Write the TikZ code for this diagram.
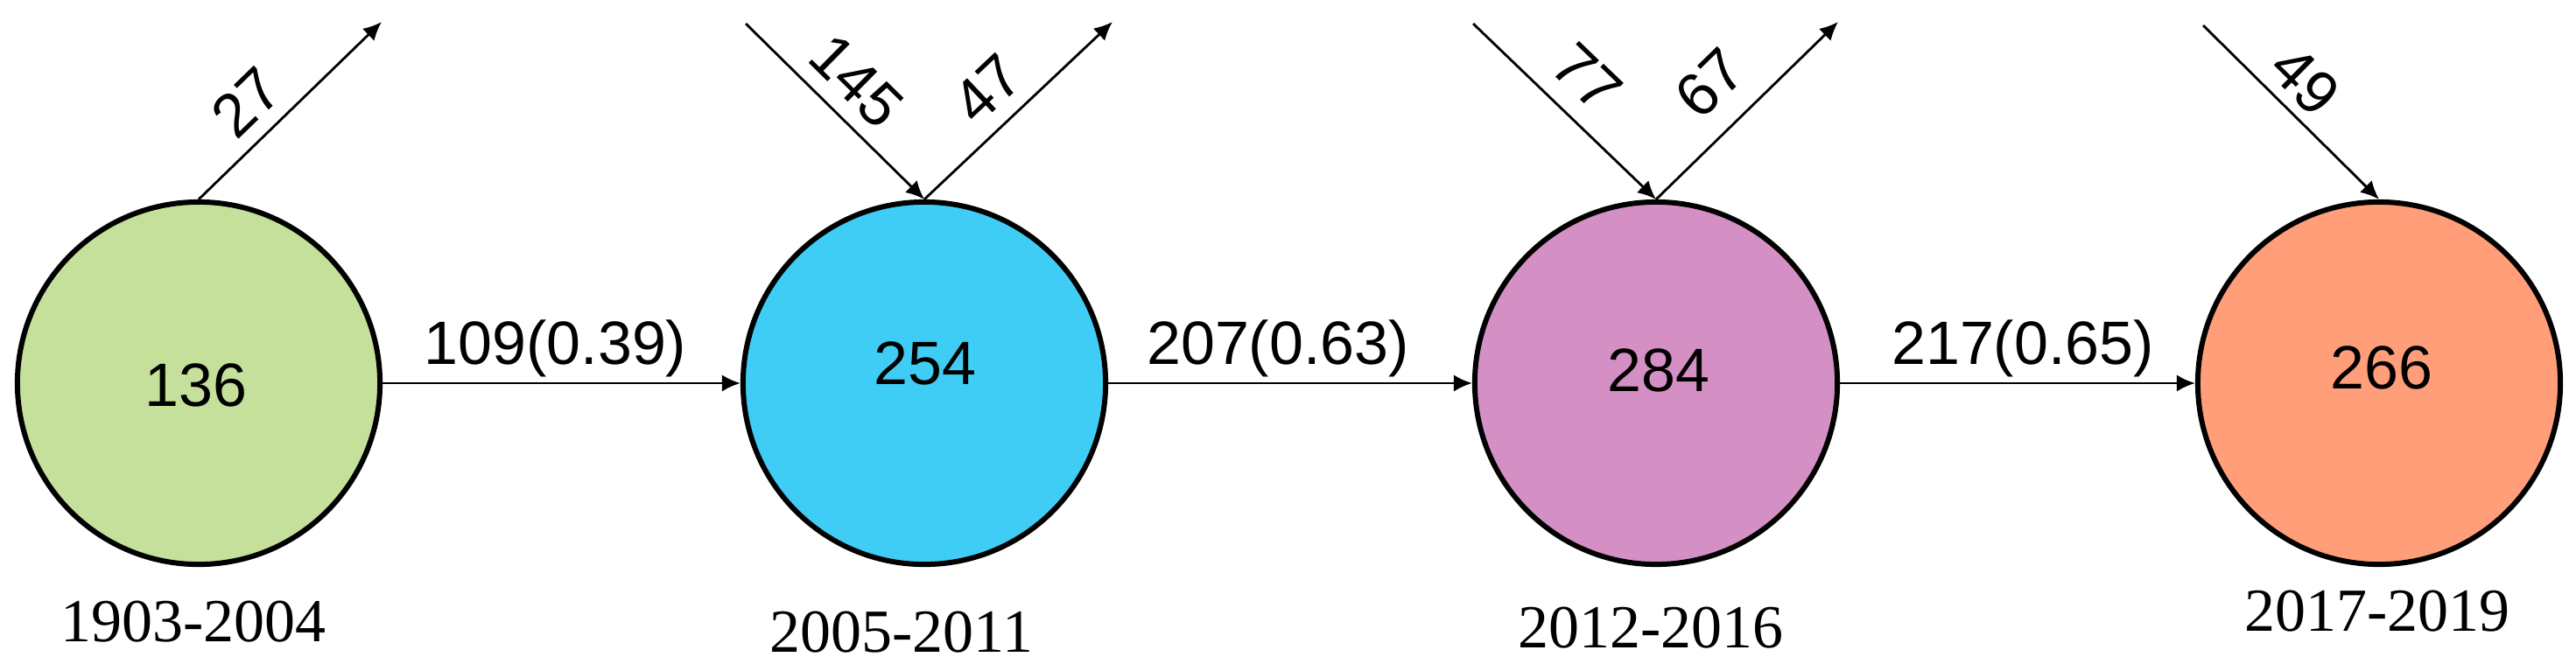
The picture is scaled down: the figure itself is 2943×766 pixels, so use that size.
\documentclass[tikz,border=0pt]{standalone}
\usepackage{fontspec}
\setmainfont{Liberation Sans}
\newfontfamily\yearfont{Liberation Serif}
\usetikzlibrary{arrows.meta}
\definecolor{cgreen}{HTML}{C5E09B}
\definecolor{cblue}{HTML}{40CDF5}
\definecolor{cpurple}{HTML}{D490C5}
\definecolor{corange}{HTML}{FF9E78}
\begin{document}
\begin{tikzpicture}[x=0.01cm,y=-0.01cm,
  period/.style={circle, draw=black, line width=1.7pt, minimum size=4.14cm, inner sep=0pt},
  count/.style={font=\fontsize{19.9}{24}\selectfont, inner sep=0pt},
  flow/.style={line width=0.8pt, -{Latex[length=6pt,width=5.5pt]}},
  slopelabel/.style={font=\fontsize{19.9}{24}\selectfont, sloped, anchor=south, inner xsep=0pt, inner ysep=#1},
  hlabel/.style={font=\fontsize{19.9}{24}\selectfont, inner sep=0pt, anchor=base, yshift=0.22cm},
  yearlabel/.style={font=\yearfont\fontsize{19.9}{24}\selectfont, inner sep=0pt}]
\useasboundingbox (0,0) rectangle (2943,766);
% periods
\node[period, fill=cgreen] (g) at (227,438) {};
\node[period, fill=cblue] (b) at (1056,438) {};
\node[period, fill=cpurple] (p) at (1892,438) {};
\node[period, fill=corange] (o) at (2718,438) {};
% counts
\node[count] (gn) at (224,440) {136};
\node[count] (bn) at (1057,415) {254};
\node[count] (pn) at (1895,423) {284};
\node[count] (on) at (2721,420) {266};
% years
\node[yearlabel] (gy) at (221,711) {1903-2004};
\node[yearlabel] (by) at (1030,723) {2005-2011};
\node[yearlabel] (py) at (1886,718) {2012-2016};
\node[yearlabel] (oy) at (2716,699) {2017-2019};
% free ends
\coordinate (gout) at (436,25);
\coordinate (bin) at (852,27);
\coordinate (bout) at (1271,25);
\coordinate (pin) at (1683,27);
\coordinate (pout) at (2100,25);
\coordinate (oin) at (2517,29);
% diagonal flows
\draw[flow] (g.north) -- node[slopelabel=0.16cm, pos=0.4] {27} (gout);
\draw[flow] (bin) -- node[slopelabel=0.16cm, pos=0.475] {145} (b.north);
\draw[flow] (b.north) -- node[slopelabel=0.17cm, pos=0.47] {47} (bout);
\draw[flow] (pin) -- node[slopelabel=0.20cm, pos=0.47] {77} (p.north);
\draw[flow] (p.north) -- node[slopelabel=0.26cm, pos=0.47] {67} (pout);
\draw[flow] (oin) -- node[slopelabel=0.11cm, pos=0.45] {49} (o.north);
% horizontal flows
\draw[flow] (g.east) -- node[hlabel, midway, xshift=-0.07cm] {109(0.39)} (b.west);
\draw[flow] (b.east) -- node[hlabel, midway, xshift=-0.14cm] {207(0.63)} (p.west);
\draw[flow] (p.east) -- node[hlabel, midway, xshift=0.06cm] {217(0.65)} (o.west);
\end{tikzpicture}
\end{document}
